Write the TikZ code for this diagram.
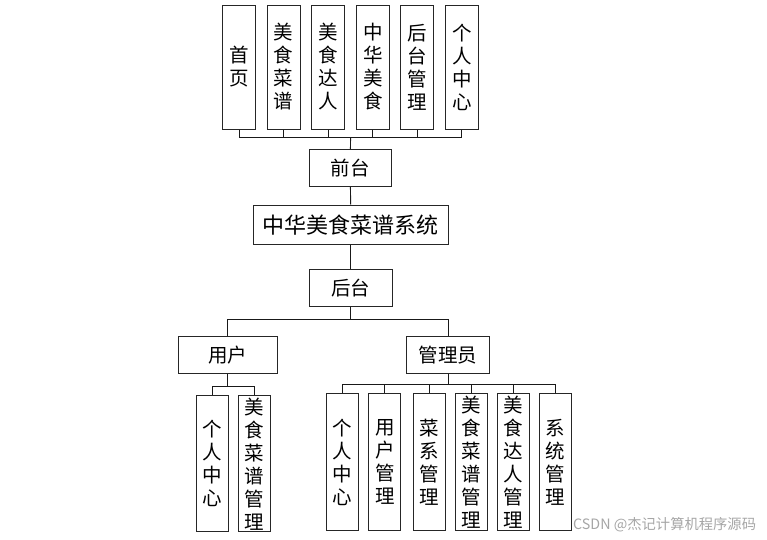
\documentclass[tikz,border=0pt]{standalone}
\usepackage{fontspec}
\setmainfont{Noto Sans CJK SC}
\begin{document}
\begin{tikzpicture}[x=1pt,y=-1pt,
  box/.style={draw=black!85,line width=1pt,inner sep=0pt,align=center,font=\fontsize{19.5}{23}\selectfont},
  vbox/.style={box,minimum width=33pt},
  conn/.style={draw=black!90,line width=0.9pt}]
\useasboundingbox (0,0) rectangle (767,539);
% top row
\foreach \n/\x/\t in {t1/239/首\\页, t2/283.7/美\\食\\菜\\谱, t3/328.2/美\\食\\达\\人, t4/372.8/中\\华\\美\\食, t5/417.2/后\\台\\管\\理, t6/461.8/个\\人\\中\\心}
  \node[vbox,minimum height=124pt] (\n) at (\x,67) {\t};
\node[box,minimum width=82.7pt,minimum height=36.7pt] (qt) at (350.4,168.3) {前台};
\node[box,minimum width=194.7pt,minimum height=39.3pt,font=\fontsize{22}{24}\selectfont] (sys) at (350.7,224.7) {中华美食菜谱系统};
\node[box,minimum width=82.7pt,minimum height=37.3pt] (ht) at (350.7,288) {后台};
\node[box,minimum width=99pt,minimum height=36.7pt] (yh) at (227.8,355) {用户};
\node[box,minimum width=82.6pt,minimum height=36.7pt] (gly) at (448,355) {管理员};
% user children
\node[vbox,minimum width=31.6pt,minimum height=135.7pt] (u1) at (212.5,463.8) {个\\人\\中\\心};
\node[vbox,minimum width=31.6pt,minimum height=135.7pt] (u2) at (254.2,463.8) {美\\食\\菜\\谱\\管\\理};
% admin children
\foreach \n/\x/\t in {a1/342.2/个\\人\\中\\心, a2/384.8/用\\户\\管\\理, a3/429.3/菜\\系\\管\\理, a4/471.3/美\\食\\菜\\谱\\管\\理, a5/513.3/美\\食\\达\\人\\管\\理, a6/555.3/系\\统\\管\\理}
  \node[vbox,minimum width=32pt,minimum height=137.4pt] (\n) at (\x,462) {\t};
% bus coordinates
\coordinate (bt) at (350.6,137.7);
\coordinate (bh) at (350.7,319.3);
\coordinate (bu) at (227.8,386.7);
\coordinate (ba) at (448,384);
% connectors
\foreach \n in {t1,t2,t3,t4,t5,t6} \draw[conn] (\n.south) |- (bt);
\draw[conn] (bt) -- (qt.north);
\draw[conn] (qt.south) -- (sys.north);
\draw[conn] (sys.south) -- (ht.north);
\draw[conn] (ht.south) -- (bh);
\draw[conn] (bh) -| (yh.north);
\draw[conn] (bh) -| (gly.north);
\draw[conn] (yh.south) -- (bu);
\foreach \n in {u1,u2} \draw[conn] (bu) -| (\n.north);
\draw[conn] (gly.south) -- (ba);
\foreach \n in {a1,a2,a3,a4,a5,a6} \draw[conn] (ba) -| (\n.north);
% watermark
\node[anchor=west,text=black!35,font=\fontsize{14.3}{16}\selectfont,inner sep=0pt] (wm) at (573,525) {CSDN @杰记计算机程序源码};
\end{tikzpicture}
\end{document}
